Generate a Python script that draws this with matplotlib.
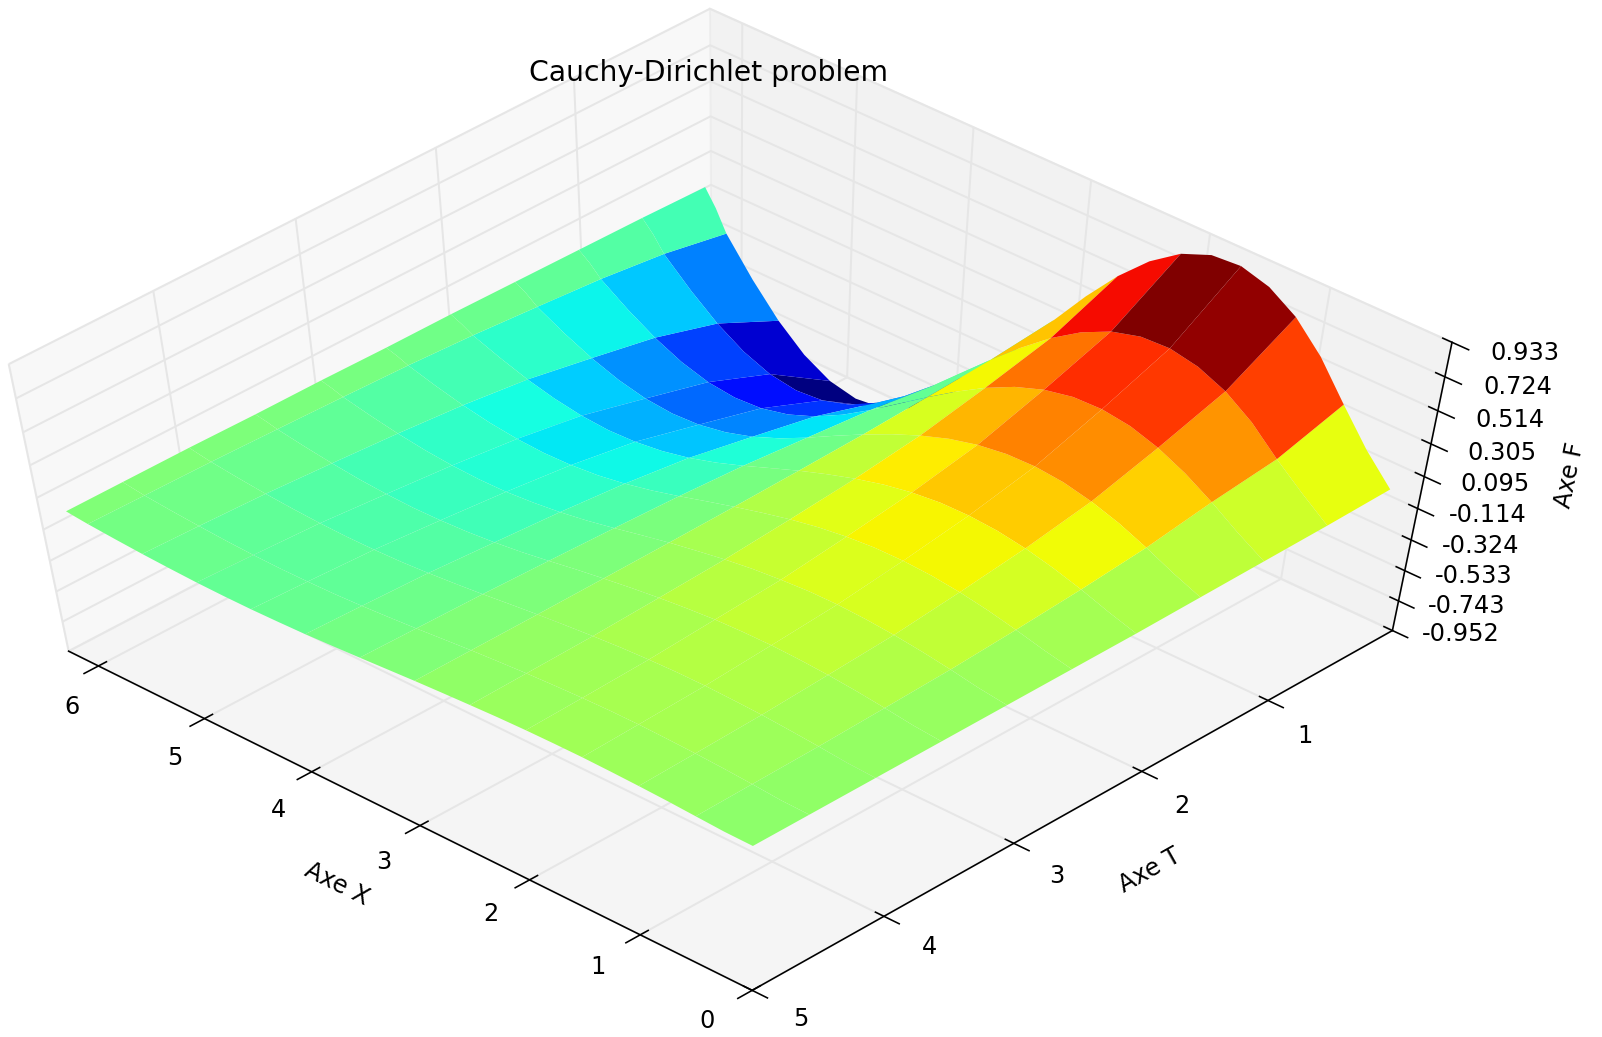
import matplotlib
matplotlib.use("Agg")
import matplotlib.pyplot as plt
import numpy as np
from matplotlib.transforms import Affine2D, ScaledTranslation
from mpl_toolkits.mplot3d import Axes3D

x_nodes = [.12, .364, .608, .852, 1.096, 1.34, 1.584, 1.828, 2.072, 2.316, 2.56, 2.804, 3.048, 3.292, 3.536, 3.78, 4.024, 4.268, 4.512, 4.756, 5.0, 5.244, 5.488, 5.732, 5.976, 6.073, 6.17]
t_nodes = [.14, .623, 1.107, 1.59, 2.074, 2.557, 3.04, 3.524, 4.008, 4.491, 4.9]
f_values = [
    [.035, .205, .410, .625, .786, .887, .933, .920, .850, .727, .559, .357, .132, -.103, -.335, -.545, -.721, -.853, -.931, -.952, -.914, -.819, -.673, -.484, -.266, -.136, -.035],
    [.025, .150, .285, .435, .546, .616, .648, .639, .590, .505, .389, .248, .092, -.073, -.239, -.389, -.515, -.609, -.664, -.679, -.652, -.584, -.480, -.345, -.190, -.097, -.025],
    [.020, .121, .234, .334, .412, .465, .488, .482, .445, .381, .293, .187, .069, -.055, -.179, -.292, -.386, -.456, -.498, -.509, -.489, -.438, -.360, -.259, -.142, -.073, -.020],
    [.015, .086, .167, .239, .294, .332, .348, .343, .317, .272, .209, .134, .049, -.043, -.139, -.227, -.300, -.354, -.387, -.396, -.380, -.340, -.279, -.201, -.110, -.056, -.015],
    [.010, .064, .125, .177, .219, .247, .259, .256, .236, .202, .155, .099, .037, -.031, -.100, -.164, -.217, -.256, -.279, -.286, -.274, -.245, -.202, -.145, -.080, -.041, -.010],
    [.010, .048, .093, .133, .164, .185, .194, .192, .177, .152, .117, .074, .027, -.023, -.075, -.123, -.163, -.193, -.210, -.215, -.206, -.185, -.152, -.109, -.059, -.031, -.010],
    [.010, .034, .067, .095, .117, .132, .140, .138, .126, .109, .084, .053, .020, -.018, -.058, -.095, -.125, -.147, -.162, -.165, -.158, -.142, -.117, -.084, -.046, -.023, -.005],
    [.010, .026, .051, .073, .090, .101, .107, .105, .098, .083, .064, .041, .015, -.013, -.044, -.073, -.096, -.113, -.123, -.127, -.121, -.109, -.089, -.064, -.035, -.018, -.005],
    [.010, .019, .037, .052, .065, .072, .077, .076, .070, .060, .046, .029, .011, -.010, -.032, -.051, -.068, -.081, -.088, -.090, -.086, -.077, -.064, -.046, -.025, -.013, 0],
    [.010, .014, .029, .041, .050, .056, .060, .059, .054, .046, .036, .023, .009, -.008, -.025, -.040, -.053, -.063, -.068, -.070, -.067, -.060, -.049, -.036, -.020, -.010, 0],
    [.010, .012, .022, .032, .039, .044, .047, .046, .043, .037, .028, .018, .007, -.006, -.019, -.031, -.042, -.049, -.054, -.055, -.053, -.047, -.039, -.028, -.015, -.008, 0],
]
x_ticks = [0, 1, 2, 3, 4, 5, 6]
t_ticks = [1, 2, 3, 4, 5]
f_ticks = [-0.952, -0.743, -0.533, -0.324, -0.114, 0.095, 0.305, 0.514, 0.724, 0.933]
f_labels = ["-0.952", "-0.743", "-0.533", "-0.324", "-0.114", "0.095", "0.305", "0.514", "0.724", "0.933"]

plt.rcParams["font.family"] = "DejaVu Sans"
plt.rcParams["font.size"] = 12

fig = plt.figure(figsize=(1602 / 144, 1037 / 144), dpi=144)
rect = [-0.1228, -0.0065, 1.128, 1.015]
ax = fig.add_axes(rect, projection="3d")
ax.apply_aspect = lambda position=None: ax._set_position(rect, "active")
ax.set_box_aspect((1, 1, 1), zoom=0.909)
ax.view_init(elev=59.7, azim=133.25)
ax.patch.set_alpha(0)

X, T = np.meshgrid(x_nodes, t_nodes)
ax.plot_surface(X, T, np.array(f_values), rstride=1, cstride=2, cmap="jet",
                linewidth=0, antialiased=True, shade=False)

ax.set_xlim(0, 6.283)
ax.set_ylim(0, 5)
ax.set_zlim(-0.952, 0.933)
ax.set_xticks(x_ticks)
ax.set_yticks(t_ticks)
ax.set_zticks(f_ticks)
ax.set_zticklabels(f_labels)
ax.set_xlabel("Axe X", labelpad=19)
ax.set_ylabel("Axe T", labelpad=19)
ax.set_zlabel("Axe F", labelpad=21)
for a in (ax.xaxis, ax.yaxis, ax.zaxis):
    a._axinfo["grid"].update(color=(0.9, 0.9, 0.9, 1), linewidth=1.0)
    a._axinfo["tick"].update(inward_factor=0.27, outward_factor=0.15)
    a._axinfo["axisline"]["linewidth"] = 0.8
    a.set_tick_params(width=0.8)
ax.xaxis.set_tick_params(pad=9.5)
ax.yaxis.set_tick_params(pad=9.5)
ax.zaxis.set_tick_params(pad=12)

# The old mplot3d placed tick labels slightly differently: nudge them in pixel space.
H = 1037.0
F = 1602.0 / 1568.0
def nudge_ticklabels(axis, kx, cx, ky, cy):
    tr = ax.transData + Affine2D.from_values(kx, 0, 0, ky, cx * F, H * (1 - ky) - cy * F)
    original = axis.get_major_ticks
    def patched(numticks=None):
        ticks = original(numticks)
        for tick in ticks:
            tick.label1.set_transform(tr)
        return ticks
    axis.get_major_ticks = patched

nudge_ticklabels(ax.xaxis, 0.9749, 3.7, 0.9685, 21.7)
nudge_ticklabels(ax.yaxis, 0.9821, 28.7, 0.9754, 13.8)
nudge_ticklabels(ax.zaxis, 0.985, 18.5, 0.975, 8.6)

zlabel = ax.zaxis.label
zlabel_draw = zlabel.draw
zlabel_tr = ax.transData + ScaledTranslation(-3.06 / 72, 7.7 / 72, fig.dpi_scale_trans)
def draw_zlabel(renderer):
    zlabel.set_transform(zlabel_tr)
    zlabel_draw(renderer)
zlabel.draw = draw_zlabel

fig.text(0.4423, 0.9295, "Cauchy-Dirichlet problem", ha="center", va="center", fontsize=14.1)
fig.savefig("out.png", dpi=144)
